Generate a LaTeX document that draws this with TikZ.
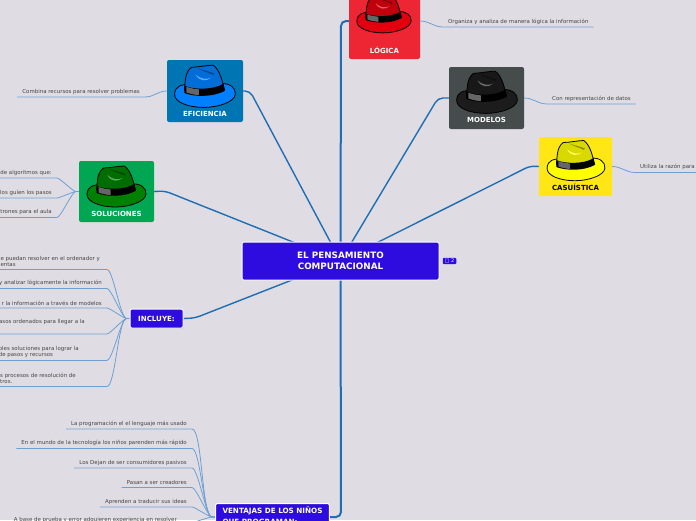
\documentclass[tikz,border=0pt]{standalone}
\usepackage{fontspec}
\setmainfont{DejaVu Sans}
\usetikzlibrary{positioning,backgrounds,shadows}
\definecolor{pagebg}{HTML}{DFDDE3}
\definecolor{mainblue}{HTML}{1F6DB4}
\definecolor{leafblue}{HTML}{6E9FD2}
\definecolor{topicviolet}{HTML}{2E0BDE}
\definecolor{leaftext}{HTML}{444444}
\definecolor{redbox}{HTML}{EE2532}
\definecolor{greybox}{HTML}{464B4C}
\definecolor{yellowbox}{HTML}{FFE614}
\definecolor{bluebox}{HTML}{0075B4}
\definecolor{greenbox}{HTML}{00A651}
\definecolor{redhat}{HTML}{E2000F}
\definecolor{blackhat}{HTML}{1C1C1C}
\definecolor{yellowhat}{HTML}{FFFF00}
\definecolor{bluehat}{HTML}{0080FF}
\definecolor{greenhat}{HTML}{008000}

\begin{document}
\begin{tikzpicture}[x=1pt,y=-1pt]
    \tikzset{
        topic/.style = {rectangle, draw=white, fill=topicviolet, text=white, line width=1pt, rounded corners=1.5pt, font=\bfseries\fontsize{8.8}{11}\selectfont, align=center},
        hatbox/.style = {rectangle, rounded corners=2pt, inner sep=0pt},
        hatlabel/.style = {inner sep=0pt, text=white, font=\bfseries\fontsize{7}{8}\selectfont},
        leaf/.style = {inner xsep=5pt, inner ysep=2.5pt, text=leaftext, font=\fontsize{5.45}{6.3}\selectfont, align=left},
        branch/.style = {draw=mainblue, line width=1.4pt, rounded corners=5pt},
        line/.style = {draw=leafblue, line width=0.8pt},
        fan/.style = {out=180, in=0, out looseness=0.3, in looseness=0.3},
        pics/hat/.style = {code={
            \filldraw[fill=#1, draw=black, line width=0.8pt] (-29.5,1) .. controls (-29,-7) and (-22,-9) .. (-15,-8) .. controls (-5,-6) and (5,-6) .. (15,-9) .. controls (24,-10) and (30,-5) .. (29.5,1) .. controls (29,9) and (12,14) .. (-1,14) .. controls (-16,14) and (-30,9) .. (-29.5,1) -- cycle;
            \filldraw[fill=#1!85!black, draw=black, line width=0.8pt] (-20,-3) .. controls (-19,-10) and (-20,-20) .. (-13,-25) .. controls (-7,-25) and (2,-27) .. (8,-27) .. controls (15,-22) and (17,-10) .. (19,-3) .. controls (8,3) and (-10,3) .. (-20,-3) -- cycle;
            \fill[black] (-20,-7) .. controls (-10,-3) and (8,-3) .. (18,-9) -- (19,-2) .. controls (8,4) and (-10,4) .. (-20,0) -- cycle;
            \fill[black!60] (-18,-6) .. controls (-14,-4.5) and (-10,-4) .. (-6,-3.5) -- (-6,2) .. controls (-10,1.8) and (-14,1) .. (-18,-0.5) -- cycle;
            \fill[#1!65!white] (-9,-18) .. controls (-6,-11) and (2,-11) .. (6,-15) .. controls (2,-13) and (-4,-13) .. (-9,-18) -- cycle;
            \fill[#1!55!black] (-7,-24) .. controls (-2,-22) and (4,-21) .. (9,-19) -- (8,-17.5) .. controls (3,-20) and (-2,-21) .. (-7,-24) -- cycle;
        }},
    }
    \useasboundingbox (0,0) rectangle (696,520);
    \clip (0,0) rectangle (696,520);

    \node[topic, minimum width=197pt, minimum height=38pt](centre) at (340.5,261){EL PENSAMIENTO\\COMPUTACIONAL};

    \node[hatbox, fill=redbox, minimum width=71pt, minimum height=64pt](logica) at (384.5,27){};
    \node[hatbox, fill=greybox, minimum width=75pt, minimum height=62pt](modelos) at (486.5,98){};
    \node[hatbox, fill=yellowbox, minimum width=73pt, minimum height=59pt](casuistica) at (575.5,166.5){};
    \node[hatbox, fill=bluebox, minimum width=76pt, minimum height=62pt](eficiencia) at (205,91){};
    \node[hatbox, fill=greenbox, minimum width=75pt, minimum height=61pt](soluciones) at (116.5,191.5){};

    \pic[scale=0.92] at (384,20) {hat={redhat}};
    \pic[scale=1.03] at (487,99) {hat={blackhat}};
    \pic[scale=0.98] at (576,167) {hat={yellowhat}};
    \pic[scale=1.03] at (205,93) {hat={bluehat}};
    \pic at (116.5,193) {hat={greenhat}};

    \node[hatlabel](llogica)[above = 5.5pt of logica.south]{LÓGICA};
    \node[hatlabel](lmodelos)[above = 6.5pt of modelos.south]{MODELOS};
    \node[hatlabel, text=black](lcasuistica)[above = 5.5pt of casuistica.south]{CASUÍSTICA};
    \node[hatlabel](leficiencia)[above = 5.5pt of eficiencia.south]{EFICIENCIA};
    \node[hatlabel](lsoluciones)[above = 5.5pt of soluciones.south]{SOLUCIONES};

    \node[topic, minimum width=53pt, minimum height=19pt, font=\bfseries\fontsize{7.1}{8}\selectfont, drop shadow={shadow xshift=0.3pt, shadow yshift=-0.8pt, fill=black!50, opacity=0.5}](incluye) at (156.5,318.5){INCLUYE:};
    \node[topic, inner xsep=7pt, inner ysep=3pt, anchor=north west, align=left, font=\bfseries\fontsize{7.2}{11}\selectfont](ventajas) at (215,503){VENTAJAS DE LOS NIÑOS\\QUE PROGRAMAN:};

    \node[rectangle, fill=topicviolet, text=white, rounded corners=1pt, inner xsep=2pt, inner ysep=1pt, font=\fontsize{5}{5}\selectfont](badge) at (449.5,261){□ 2};

    \node[leaf, anchor=south west](lg1) at (443,27){Organiza y analiza de manera lógica la información};
    \node[leaf, anchor=south west](md1) at (547,104){Con representación de datos};
    \node[leaf, anchor=south west](cs1) at (635,172.5){Utiliza la razón para};
    \node[leaf, anchor=south east](ef1) at (145,97){Combina recursos para resolver problemas};

    \node[leaf, anchor=south east](so1) at (57,178){de algoritmos que:};
    \node[leaf, anchor=south east](so2) at (57,198){los guíen los pasos};
    \node[leaf, anchor=south east](so3) at (57,217.5){trones para el aula};

    \node[leaf, anchor=south east](in1) at (107,269.5){e puedan resolver en el ordenador y\rule{2pt}{0pt}\\entas};
    \node[leaf, anchor=south east](in2) at (107,288.5){y analizar lógicamente la información};
    \node[leaf, anchor=south east](in3) at (107,308){r la información a través de modelos};
    \node[leaf, anchor=south east](in4) at (107,334){asos ordenados para llegar a la\rule{17pt}{0pt}\\\strut};
    \node[leaf, anchor=south east](in5) at (107,360.5){oles soluciones para lograr la\rule{23pt}{0pt}\\de pasos y recursos};
    \node[leaf, anchor=south east](in6) at (107,386.5){s procesos de resolución de\rule{26pt}{0pt}\\tros.};

    \node[leaf, anchor=south east](ve1) at (192,429){La programación el el lenguaje más usado};
    \node[leaf, anchor=south east](ve2) at (192,448.5){En el mundo de la tecnología los niños parenden más rápido};
    \node[leaf, anchor=south east](ve3) at (192,468){Los Dejan de ser consumidores pasivos};
    \node[leaf, anchor=south east](ve4) at (192,487.5){Pasan a ser creadores};
    \node[leaf, anchor=south east](ve5) at (192,507){Aprenden a traducir sus ideas};
    \node[leaf, anchor=south east](ve6) at (182,525.5){A base de prueba y error adquieren experiencia en resolver};

    \begin{scope}[on background layer]
        \fill[pagebg] (0,0) rectangle (696,520);
        \path [branch, line width=2pt] (centre.center) -- (341,21) -- (logica.west |- 0,21);
        \path [branch] (centre.center) -- (438,98) -- (modelos.west);
        \path [branch] (centre.center) -- (530,166) -- (casuistica.west);
        \path [branch] (centre.center) -- (250,91) -- (eficiencia.east);
        \path [branch] (centre.center) -- (165,191) -- (soluciones.east);
        \path [branch] (centre.center) -- (195,318) -- (incluye.east);
        \path [branch, line width=2pt] (centre.center) -- (341,517) -- (ventajas.east |- 0,517);

        \path [line] (logica.east |- 0,21) to[out=0, in=180] (lg1.south west) -- (lg1.south east);
        \path [line] (modelos.east) to[out=0, in=180] (md1.south west) -- (md1.south east);
        \path [line] (casuistica.east) to[out=0, in=180] (cs1.south west) -- (696,172.5);
        \path [line] (eficiencia.west) to[out=180, in=0] (ef1.south east) -- (ef1.south west);

        \foreach \leafname in {so1,so2,so3}
            \path [line] (soluciones.west) -- ++(-3,0) to[fan] (\leafname.south east) -- (\leafname.south west);
        \foreach \leafname in {in1,in2,in3,in4,in5,in6}
            \path [line] (incluye.west) -- ++(-3,0) to[fan] (\leafname.south east) -- (\leafname.south west);
        \foreach \leafname in {ve1,ve2,ve3,ve4,ve5,ve6}
            \path [line] (ventajas.west |- 0,517) -- ++(-3,0) to[fan] (\leafname.south east) -- (\leafname.south west);
    \end{scope}
\end{tikzpicture}
\end{document}
